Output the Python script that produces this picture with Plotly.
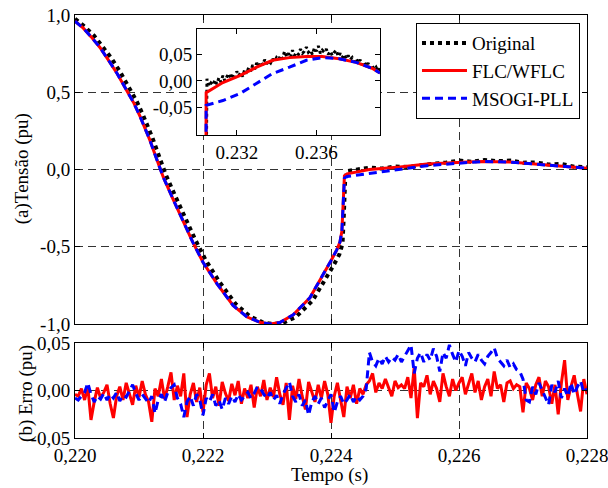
import numpy as np
import plotly.graph_objects as go

# ---------------- main panel (a) ----------------
t_flc = [0.22000, 0.22013, 0.22025, 0.22039, 0.22052, 0.22066, 0.22081, 0.22092,
         0.22102, 0.22117, 0.22130, 0.22138, 0.22153, 0.22168, 0.22184, 0.22200,
         0.22222, 0.22247, 0.22269, 0.22290, 0.22305, 0.22320, 0.22341, 0.22367,
         0.22388, 0.22400, 0.22409, 0.22414, 0.22417, 0.22419, 0.22421, 0.22425,
         0.22460, 0.22508, 0.22550, 0.22613, 0.22638, 0.22680, 0.22716, 0.22760,
         0.22794, 0.22800]
v_flc = [0.960, 0.915, 0.860, 0.790, 0.710, 0.620, 0.510, 0.430,
         0.340, 0.190, 0.040, -0.050, -0.190, -0.330, -0.470, -0.600,
         -0.740, -0.880, -0.955, -0.990, -1.000, -0.990, -0.940, -0.830,
         -0.680, -0.590, -0.520, -0.470, -0.400, -0.200, -0.040, -0.028,
         0.000, 0.016, 0.035, 0.049, 0.052, 0.048, 0.036, 0.022,
         0.010, 0.008]
v_msogi = [0.960, 0.915, 0.860, 0.790, 0.710, 0.620, 0.510, 0.430,
           0.340, 0.190, 0.040, -0.050, -0.190, -0.330, -0.470, -0.600,
           -0.740, -0.880, -0.955, -0.990, -1.000, -0.990, -0.940, -0.830,
           -0.680, -0.590, -0.520, -0.470, -0.400, -0.200, -0.055, -0.045,
           -0.025, 0.000, 0.025, 0.045, 0.052, 0.048, 0.036, 0.022,
           0.010, 0.008]
t_orig = [0.22000, 0.22015, 0.22030, 0.22043, 0.22057, 0.22070, 0.22085, 0.22096,
          0.22106, 0.22121, 0.22134, 0.22142, 0.22157, 0.22172, 0.22188, 0.22204,
          0.22226, 0.22251, 0.22273, 0.22294, 0.22309, 0.22324, 0.22345, 0.22371,
          0.22392, 0.22404, 0.22413, 0.22418, 0.22420, 0.22422, 0.22425,
          0.22440, 0.22460, 0.22480, 0.22500, 0.22520, 0.22540, 0.22560, 0.22580,
          0.22600, 0.22620, 0.22640, 0.22660, 0.22680, 0.22700, 0.22720, 0.22740,
          0.22760, 0.22780, 0.22800]
v_orig = [0.975, 0.925, 0.865, 0.800, 0.720, 0.635, 0.525, 0.445,
          0.355, 0.205, 0.055, -0.035, -0.175, -0.315, -0.455, -0.585,
          -0.730, -0.870, -0.950, -0.990, -1.000, -0.995, -0.955, -0.850,
          -0.710, -0.620, -0.550, -0.480, -0.300, -0.080, -0.010,
          0.002, 0.012, 0.006, 0.020, 0.016, 0.030, 0.038, 0.045,
          0.058, 0.050, 0.062, 0.054, 0.058, 0.044, 0.046, 0.032,
          0.036, 0.018, 0.015]

# ---------------- inset ----------------
t_in = [0.23000, 0.23044, 0.23046, 0.23130, 0.23215, 0.23300, 0.23380, 0.23465,
        0.23550, 0.23630, 0.23715, 0.23800, 0.23880, 0.23915, 0.23920]
v_in_flc = [-0.300, -0.300, -0.022, -0.003, 0.010, 0.026, 0.039, 0.044,
            0.046, 0.046, 0.042, 0.035, 0.024, 0.016, 0.015]
v_in_msogi = [-0.300, -0.300, -0.046, -0.037, -0.024, -0.005, 0.014, 0.026,
              0.039, 0.044, 0.042, 0.035, 0.024, 0.016, 0.015]
v_in_orig = [0.004, -0.010, -0.004, -0.008, 0.002, -0.006, 0.006, -0.002, 0.010, 0.000,
             0.008, 0.014, 0.004, 0.012, 0.006, 0.018, 0.010, 0.016, 0.008, 0.022,
             0.014, 0.026, 0.018, 0.030, 0.022, 0.034, 0.028, 0.036, 0.030, 0.040,
             0.032, 0.038, 0.034, 0.042, 0.036, 0.044, 0.040, 0.048, 0.042, 0.056,
             0.046, 0.052, 0.044, 0.058, 0.048, 0.054, 0.050, 0.060, 0.052, 0.056,
             0.064, 0.054, 0.058, 0.050, 0.062, 0.056, 0.066, 0.052, 0.058, 0.054,
             0.060, 0.050, 0.056, 0.048, 0.054, 0.058, 0.046, 0.052, 0.044, 0.050,
             0.042, 0.048, 0.040, 0.044, 0.036, 0.042, 0.034, 0.040, 0.030, 0.036,
             0.028, 0.034, 0.024, 0.030, 0.022, 0.026, 0.018, 0.024]
t_in_orig = [0.23000, 0.23044] + list(np.round(0.2305 + 0.0001 * np.arange(len(v_in_orig)), 5))
v_in_orig_full = [-0.300, -0.300] + v_in_orig

# ---------------- panel (b) errors ----------------
err_flc = [-0.004, -0.006, 0.002, -0.010, 0.004, -0.031, -0.012, 0.003, -0.008, -0.002,
           0.006, -0.014, -0.029, -0.006, 0.004, -0.010, 0.008, -0.003, -0.015, 0.005,
           -0.007, 0.010, -0.004, -0.012, -0.033, 0.002, -0.006, 0.012, -0.009, 0.004,
           0.019, -0.010, 0.005, -0.006, 0.018, -0.028, -0.004, 0.008, -0.012, 0.003,
           -0.023, 0.006, 0.018, -0.008, 0.004, -0.016, 0.009, -0.003, -0.011, 0.007,
           -0.005, 0.010, -0.014, 0.002, -0.008, 0.006, -0.018, 0.004, -0.006, 0.011,
           -0.010, 0.003, -0.007, 0.014, -0.004, -0.015, 0.008, -0.031, 0.005, -0.009,
           0.012, -0.006, -0.020, 0.009, -0.002, -0.012, 0.006, -0.008, 0.010, -0.004,
           -0.034, -0.006, 0.008, -0.010, -0.028, 0.004, -0.008, 0.006, -0.014, 0.002,
           -0.004, 0.006, 0.010, 0.018, -0.002, 0.008, 0.002, 0.012, 0.004, -0.006,
           0.010, 0.003, 0.006, 0.002, 0.014, -0.008, 0.024, -0.029, 0.008, 0.004,
           0.016, -0.004, 0.010, 0.002, -0.012, 0.018, 0.004, -0.006, 0.012, 0.000,
           0.008, 0.014, -0.004, 0.006, 0.018, -0.002, 0.010, -0.010, 0.004, 0.012,
           -0.006, 0.020, 0.002, 0.006, -0.012, 0.008, 0.010, 0.002, 0.006, 0.004,
           -0.023, 0.008, 0.002, -0.010, 0.006, 0.014, -0.006, 0.010, 0.004, -0.014,
           0.006, -0.025, 0.008, 0.032, -0.010, 0.004, 0.016, -0.004, -0.022, 0.012,
           -0.004]
err_msogi = [-0.008, -0.010, -0.006, -0.002, 0.008, -0.004, -0.012, -0.006, -0.009, -0.003,
             -0.010, -0.004, -0.008, -0.002, -0.011, -0.005, -0.007, 0.000, 0.006, -0.003,
             -0.010, -0.004, -0.008, -0.013, -0.006, -0.024, -0.010, -0.004, -0.012, -0.002,
             0.003, 0.006, -0.008, -0.014, -0.028, -0.012, -0.006, -0.016, -0.004, -0.010,
             -0.026, -0.008, -0.012, -0.004, -0.016, -0.010, -0.020, -0.008, -0.014, -0.006,
             -0.012, -0.004, -0.010, -0.006, -0.002, -0.008, -0.003, 0.004, 0.002, -0.004,
             -0.008, -0.002, -0.010, -0.005, -0.014, -0.004, 0.002, 0.009, -0.006, -0.012,
             -0.004, -0.016, -0.010, -0.026, -0.012, -0.006, -0.014, -0.008, -0.018, -0.010,
             -0.004, -0.023, -0.012, -0.006, -0.014, -0.010, -0.004, -0.012, -0.006, -0.010,
             -0.006, 0.002, 0.040, 0.030, 0.026, 0.034, 0.028, 0.036, 0.030, 0.035,
             0.032, 0.038, 0.030, 0.036, 0.042, 0.048, 0.018, 0.034, 0.040, 0.030,
             0.038, 0.032, 0.044, 0.036, 0.020, 0.040, 0.034, 0.048, 0.038, 0.030,
             0.042, 0.036, 0.026, 0.040, 0.034, 0.030, 0.038, 0.032, 0.028, 0.036,
             0.040, 0.045, 0.034, 0.030, 0.026, 0.032, 0.024, 0.028, 0.022, 0.020,
             0.012, -0.010, -0.012, 0.004, -0.004, 0.008, 0.000, -0.006, -0.015, 0.006,
             -0.002, 0.010, -0.008, 0.002, -0.006, 0.008, -0.004, 0.004, 0.010, -0.002,
             0.002]
t_err = list(np.round(0.220 + 0.00005 * np.arange(len(err_flc)), 5))

x_ticks = [0.220, 0.222, 0.224, 0.226, 0.228]
x_ticktext = ["0,220", "0,222", "0,224", "0,226", "0,228"]
ya_ticks = [-1.0, -0.5, 0.0, 0.5, 1.0]
ya_ticktext = ["-1,0", "-0,5", "0,0", "0,5", "1,0"]
yb_ticks = [-0.05, 0.0, 0.05]
yb_ticktext = ["-0,05", "0,00", "0,05"]
xin_ticks = [0.232, 0.236]
xin_ticktext = ["0.232", "0.236"]

names = ["Original", "FLC/WFLC", "MSOGI-PLL"]

FONT = "Liberation Serif"
BLACK = "black"
RED = "#ff0000"
BLUE = "#0000ff"
DOT = "dot"
DASH = "8px,5px"

fig = go.Figure()

# main
fig.add_trace(go.Scatter(x=t_orig, y=v_orig, mode="lines", name=names[0],
                         line=dict(color=BLACK, width=4, dash=DOT), xaxis="x", yaxis="y"))
fig.add_trace(go.Scatter(x=t_flc, y=v_flc, mode="lines", name=names[1],
                         line=dict(color=RED, width=3), xaxis="x", yaxis="y"))
fig.add_trace(go.Scatter(x=t_flc, y=v_msogi, mode="lines", name=names[2],
                         line=dict(color=BLUE, width=3, dash=DASH), xaxis="x", yaxis="y"))
# errors
fig.add_trace(go.Scatter(x=t_err, y=err_flc, mode="lines", showlegend=False,
                         line=dict(color=RED, width=3), xaxis="x2", yaxis="y2"))
fig.add_trace(go.Scatter(x=t_err, y=err_msogi, mode="lines", showlegend=False,
                         line=dict(color=BLUE, width=3, dash=DASH), xaxis="x2", yaxis="y2"))
# inset
fig.add_trace(go.Scatter(x=t_in_orig, y=v_in_orig_full, mode="lines", showlegend=False,
                         line=dict(color=BLACK, width=3, dash=DOT), xaxis="x3", yaxis="y3"))
fig.add_trace(go.Scatter(x=t_in, y=v_in_flc, mode="lines", showlegend=False,
                         line=dict(color=RED, width=3), xaxis="x3", yaxis="y3"))
fig.add_trace(go.Scatter(x=t_in, y=v_in_msogi, mode="lines", showlegend=False,
                         line=dict(color=BLUE, width=3, dash=DASH), xaxis="x3", yaxis="y3"))

grid = dict(showgrid=True, gridcolor="#333333", gridwidth=1, griddash="8px,5px")
axbase = dict(showline=True, linecolor=BLACK, linewidth=1, mirror="ticks",
              ticks="inside", ticklen=5, tickcolor=BLACK, zeroline=False,
              automargin=False, ticklabeloverflow="allow",
              tickfont=dict(family=FONT, size=19, color=BLACK))

fig.update_layout(
    template="none",
    width=608, height=488,
    margin=dict(l=75, r=21, t=15, b=50),
    paper_bgcolor="white", plot_bgcolor="white",
    font=dict(family=FONT, size=19, color=BLACK),
    xaxis=dict(domain=[0, 1], anchor="y", range=[0.220, 0.228], tickvals=x_ticks,
               showticklabels=False, **grid, **axbase),
    yaxis=dict(domain=[0.2695, 1], anchor="x", range=[-1, 1], tickvals=ya_ticks,
               ticktext=ya_ticktext, **grid, **axbase),
    xaxis2=dict(domain=[0, 1], anchor="y2", range=[0.220, 0.228], tickvals=x_ticks,
                ticktext=x_ticktext, **grid, **axbase),
    yaxis2=dict(domain=[0, 0.2246], anchor="x2", range=[-0.05, 0.05], tickvals=yb_ticks,
                ticktext=yb_ticktext, **grid, **axbase),
    xaxis3=dict(domain=[0.2383, 0.5957], anchor="y3", range=[0.2300, 0.2392],
                tickvals=xin_ticks, ticktext=xin_ticktext, showgrid=False, **axbase),
    yaxis3=dict(domain=[0.7163, 0.9669], anchor="x3", range=[-0.102, 0.098],
                tickvals=yb_ticks, ticktext=yb_ticktext, showgrid=False, **axbase),
    legend=dict(x=0.666, y=0.981, xanchor="left", yanchor="top",
                bgcolor="white", bordercolor=BLACK, borderwidth=1,
                font=dict(family=FONT, size=19, color=BLACK),
                itemwidth=45, tracegroupgap=0),
    annotations=[
        dict(text="(a)Tensão (pu)", x=-0.103, y=0.636, xref="paper", yref="paper",
             textangle=-90, showarrow=False, xanchor="center", yanchor="middle",
             font=dict(family=FONT, size=19, color=BLACK)),
        dict(text="(b) Erro (pu)", x=-0.097, y=0.105, xref="paper", yref="paper",
             textangle=-90, showarrow=False, xanchor="center", yanchor="middle",
             font=dict(family=FONT, size=19, color=BLACK)),
        dict(text="Tempo (s)", x=0.498, y=-0.087, xref="paper", yref="paper",
             showarrow=False, xanchor="center", yanchor="middle",
             font=dict(family=FONT, size=19, color=BLACK)),
    ],
)

# remove the default 8 px page margin so the 608x488 figure fills the window
fig.write_html("out.html", config={"displayModeBar": False},
               post_script="document.body.style.margin='0px';")
